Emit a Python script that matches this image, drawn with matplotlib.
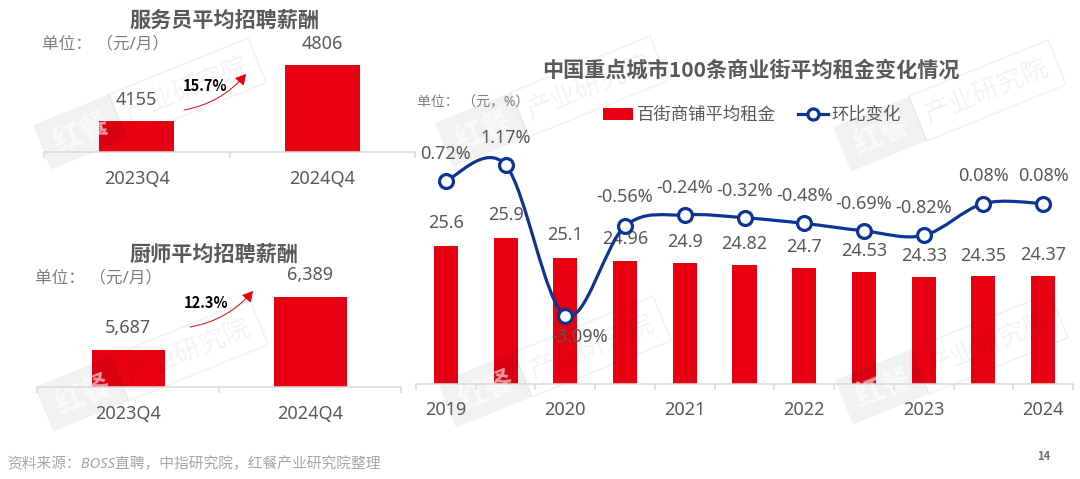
import numpy as np
import matplotlib
matplotlib.use('Agg')
import matplotlib.pyplot as plt
from matplotlib.patches import FancyArrowPatch, PathPatch, Rectangle
from matplotlib.path import Path
from matplotlib.transforms import Affine2D

plt.rcParams['font.family'] = ['Noto Sans', 'Noto Sans CJK SC', 'DejaVu Sans']
BOLD = ['Noto Sans CJK SC', 'DejaVu Sans']

# data
quarters = ['2023Q4', '2024Q4']
waiter_pay = [4155, 4806]
waiter_labels = ['4155', '4806']
chef_pay = [5687, 6389]
chef_labels = ['5,687', '6,389']

rent = [25.6, 25.9, 25.1, 24.96, 24.9, 24.82, 24.7, 24.53, 24.33, 24.35, 24.37]
rent_labels = ['25.6', '25.9', '25.1', '24.96', '24.9', '24.82', '24.7', '24.53', '24.33', '24.35', '24.37']
change = [0.72, 1.17, -3.09, -0.56, -0.24, -0.32, -0.48, -0.69, -0.82, 0.08, 0.08]
change_labels = ['0.72%', '1.17%', '-3.09%', '-0.56%', '-0.24%', '-0.32%', '-0.48%', '-0.69%', '-0.82%', '0.08%', '0.08%']
rent_ticks = ['2019', '', '2020', '', '2021', '', '2022', '', '2023', '', '2024']

RED = '#e60012'
BLUE = '#0b3494'
GRAY = '#595959'
AXIS = '#d9d9d9'
W, H = 1080, 479
ANGLE = 22


def axes_px(fig, x0, x1, ytop, ybottom, z):
    ax = fig.add_axes([x0 / W, 1 - ybottom / H, (x1 - x0) / W, (ybottom - ytop) / H])
    ax.set_zorder(z)
    ax.patch.set_alpha(0)
    return ax


def hide_frame(ax):
    for s in ['top', 'right', 'left', 'bottom']:
        ax.spines[s].set_visible(False)
    ax.set_yticks([])
    ax.set_xticks([])


def style_axis(ax, labels, pad):
    # axis line, ticks and labels live on the upper axes, above the watermark
    n = len(labels)
    ax.set_xlim(-0.5, n - 0.5)
    for s in ['top', 'right', 'left']:
        ax.spines[s].set_visible(False)
    ax.spines['bottom'].set_color(AXIS)
    ax.spines['bottom'].set_linewidth(1.1)
    ax.set_yticks([])
    ax.set_xticks(np.arange(n))
    ax.set_xticklabels(labels)
    ax.set_xticks(np.arange(n + 1) - 0.5, minor=True)
    ax.tick_params(axis='x', which='major', length=0, pad=pad, labelsize=13, labelcolor=GRAY)
    ax.tick_params(axis='x', which='minor', length=4, width=1.1, color=AXIS)


def small_bars(fig, box, values, labels, ymin, ymax, width):
    ax = axes_px(fig, *box, 1)
    xs = np.arange(len(values))
    ax.bar(xs, values, width=width, color=RED)
    ax.set_xlim(-0.5, len(values) - 0.5)
    ax.set_ylim(ymin, ymax)
    hide_frame(ax)
    top = axes_px(fig, *box, 3)
    style_axis(top, quarters, 13)
    for x, v, t in zip(xs, values, labels):
        top.annotate(t, (x, v), xycoords=ax.transData, xytext=(0, 15.5), textcoords='offset points',
                     ha='center', va='center', fontsize=13, color=GRAY)
    return ax


def smooth_path(xs, ys):
    # catmull-rom through the points, as bezier segments
    pts = np.column_stack([xs, ys])
    verts = [pts[0]]
    codes = [Path.MOVETO]
    for i in range(len(pts) - 1):
        p0 = pts[max(i - 1, 0)]
        p1 = pts[i]
        p2 = pts[i + 1]
        p3 = pts[min(i + 2, len(pts) - 1)]
        verts += [p1 + (p2 - p0) / 6, p2 - (p3 - p1) / 6, p2]
        codes += [Path.CURVE4, Path.CURVE4, Path.CURVE4]
    return Path(verts, codes)


def watermark(wm, x, y):
    tr = Affine2D().rotate_deg(-ANGLE).translate(x, y)
    wm.add_patch(Rectangle((0, 0), 82, 48, facecolor='k', alpha=0.055, edgecolor='none',
                           transform=tr + wm.transData))
    wm.add_patch(Rectangle((82, 0), 150, 48, facecolor='none', edgecolor='k', alpha=0.05, lw=1.2,
                           transform=tr + wm.transData))
    qx, qy = tr.transform((42, 25))
    wm.text(qx, qy, '红餐', fontsize=21, fontweight='bold', family=BOLD, color='w', alpha=0.6, rotation=ANGLE,
            rotation_mode='anchor', ha='center', va='center')
    qx, qy = tr.transform((155, 25))
    wm.text(qx, qy, '产业研究院', fontsize=19, family=BOLD, color='k', alpha=0.05, rotation=ANGLE,
            rotation_mode='anchor', ha='center', va='center')


fig = plt.figure(figsize=(10.8, 4.79), dpi=100)

# top left
ax1 = small_bars(fig, (44, 415, 30, 152), waiter_pay, waiter_labels, 3795, 3795 + 122 / 0.086, 75 / 185.5)

# bottom left
ax2 = small_bars(fig, (37, 401, 265, 387), chef_pay, chef_labels, 5197, 5197 + 122 / 0.0755, 73 / 182)

# right, bars and line
box = (416, 1073, 89.5, 383.5)
ax3 = axes_px(fig, *box, 1)
xs = np.arange(len(rent))
bars = ax3.bar(xs, rent, width=24 / 59.7, color=RED, label='百街商铺平均租金')
ax3.set_xlim(-0.5, 10.5)
ax3.set_ylim(20, 31.95)
hide_frame(ax3)

ax4 = axes_px(fig, *box, 3)
style_axis(ax4, rent_ticks, 12.5)
ax4.set_ylim(-5, 3.3)
for x, v, t in zip(xs, rent, rent_labels):
    up = 16.5 if x < 4 else 15
    ax4.annotate(t, (x, v), xycoords=ax3.transData, xytext=(0, up), textcoords='offset points',
                 ha='center', va='center', fontsize=13, color=GRAY, zorder=3)
ax4.add_patch(PathPatch(smooth_path(xs, change), facecolor='none', edgecolor=BLUE, lw=2.3, zorder=3))
ax4.plot(xs, change, linestyle='none', marker='o', ms=10, mfc='w', mec=BLUE, mew=2.3, zorder=4)
for x, v, t in zip(xs, change, change_labels):
    off = (0, 19.5)
    if t == '-3.09%':
        off = (10, -15)
    elif t == '-0.56%':
        off = (0, 21)
    ax4.annotate(t, (x, v), xytext=off, textcoords='offset points', ha='center', va='center',
                 fontsize=13, color=GRAY, zorder=5)

legend_line, = ax4.plot([], [], color=BLUE, lw=2.3, marker='o', ms=8, mfc='w', mec=BLUE, mew=2.3, label='环比变化')
leg = fig.legend(handles=[bars, legend_line], loc='center', bbox_to_anchor=(752 / W, 1 - 115 / H), ncol=2,
                 frameon=False, fontsize=12.5, labelcolor=GRAY, handlelength=1.75, handleheight=0.63,
                 handletextpad=0.2, columnspacing=1.25, borderpad=0)
leg.set_zorder(4)

# watermark sits over the bars, under the labels
wm = fig.add_axes([0, 0, 1, 1])
wm.set_zorder(2)
wm.set_xlim(0, W)
wm.set_ylim(H, 0)
wm.axis('off')
for wx, wy in [(33, 125), (35, 387), (435, 123), (833, 127), (438, 383), (835, 380)]:
    watermark(wm, wx, wy)

# texts in pixels
ov = fig.add_axes([0, 0, 1, 1])
ov.set_zorder(4)
ov.set_xlim(0, W)
ov.set_ylim(H, 0)
ov.axis('off')

ov.text(225, 20, '服务员平均招聘薪酬', fontsize=15.2, fontweight='bold', family=BOLD, color=GRAY, ha='center', va='center')
ov.text(214, 254, '厨师平均招聘薪酬', fontsize=15.2, fontweight='bold', family=BOLD, color=GRAY, ha='center', va='center')
ov.text(750.5, 70, '中国重点城市100条商业街平均租金变化情况', fontsize=15.2, fontweight='bold', family=BOLD, color=GRAY, ha='center', va='center')
ov.text(42, 44, '单位： （元/月）', fontsize=12, color='#7f7f7f', va='center')
ov.text(35, 278, '单位： （元/月）', fontsize=12, color='#7f7f7f', va='center')
ov.text(417, 103, '单位： （元，%）', fontsize=10, color='#7f7f7f', va='center')
ov.text(7, 465, '资料来源：BOSS直聘，中指研究院，红餐产业研究院整理', fontsize=10.6, color='#a6a6a6', va='center', style='italic')
ov.text(1044, 456, '14', fontsize=8, fontweight='bold', family=BOLD, color='#6e6e6e', ha='center', va='center')

ov.text(205, 86, '15.7%', fontsize=10.5, fontweight='bold', family=BOLD, color='k', ha='center', va='center')
ov.text(206, 303, '12.3%', fontsize=10.5, fontweight='bold', family=BOLD, color='k', ha='center', va='center')
for start, end in [((184, 110), (246, 74)), ((190, 327), (253, 291))]:
    ov.add_patch(FancyArrowPatch(start, end, connectionstyle='arc3,rad=0.18', arrowstyle='-|>,head_length=3.2,head_width=1.8',
                                 color=RED, lw=0.7, mutation_scale=2, shrinkA=0, shrinkB=0))

fig.savefig('out.png', dpi=100)
